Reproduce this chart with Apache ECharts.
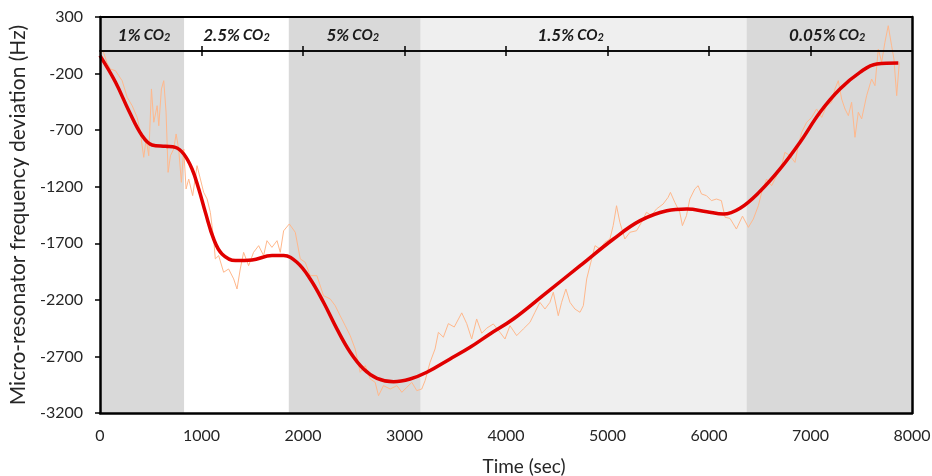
<!DOCTYPE html>
<html>
<head>
<meta charset="utf-8">
<script src="https://cdn.jsdelivr.net/npm/echarts@6/dist/echarts.min.js"></script>
<style>
  html, body { margin: 0; padding: 0; background: #fff; }
  #chart { width: 932px; height: 476px; }
</style>
</head>
<body>
<div id="chart"></div>
<script>
// raw measured trace (sec, Hz)
var timeRaw = [0, 28, 47, 67, 103, 153, 185, 218, 268, 317, 366, 399, 415, 431, 455, 480, 507, 530, 563, 579,
  605, 628, 651, 671, 694, 726, 750, 775, 802, 825, 848, 874, 913, 956, 989, 1021, 1055, 1087, 1120, 1136,
  1169, 1218, 1267, 1317, 1350, 1382, 1415, 1464, 1513, 1563, 1612, 1645, 1694, 1744, 1776, 1809, 1865, 1924, 1973, 2022,
  2071, 2137, 2202, 2268, 2317, 2366, 2416, 2465, 2514, 2563, 2613, 2662, 2711, 2744, 2793, 2859, 2925, 2974, 3023, 3072,
  3121, 3170, 3203, 3252, 3301, 3334, 3383, 3432, 3490, 3564, 3613, 3662, 3711, 3761, 3810, 3875, 3941, 3990, 4039, 4105,
  4171, 4236, 4285, 4334, 4384, 4433, 4466, 4515, 4548, 4590, 4630, 4679, 4729, 4762, 4795, 4844, 4877, 4926, 4975, 5024,
  5056, 5089, 5122, 5171, 5220, 5286, 5335, 5384, 5433, 5482, 5548, 5597, 5620, 5663, 5712, 5738, 5778, 5811, 5860, 5893,
  5926, 5975, 6024, 6073, 6122, 6158, 6207, 6270, 6330, 6388, 6437, 6486, 6519, 6568, 6617, 6666, 6715, 6748, 6797, 6847,
  6880, 6913, 6962, 7011, 7060, 7110, 7159, 7208, 7241, 7274, 7307, 7340, 7373, 7405, 7438, 7471, 7504, 7553, 7602, 7635,
  7668, 7701, 7733, 7766, 7799, 7822, 7849, 7875];
var freqRaw = [-36, 7, 15, -100, -160, -175, -219, -263, -410, -484, -587, -719, -837, -940, -778, -926, -336, -630, -484, -661,
  -336, -263, -542, -1073, -926, -867, -734, -867, -1161, -867, -1220, -1132, -1279, -1014, -1132, -1249, -1308, -1426, -1662, -1838,
  -1809, -1956, -1927, -2015, -2104, -1927, -1780, -1898, -1780, -1721, -1809, -1677, -1736, -1677, -1780, -1590, -1529, -1603, -1838, -1868,
  -1986, -1986, -2163, -2192, -2251, -2340, -2428, -2516, -2634, -2840, -2781, -2899, -2929, -3047, -2958, -2988, -2958, -3017, -2973, -2929,
  -3002, -2988, -2914, -2752, -2634, -2487, -2530, -2410, -2440, -2315, -2410, -2546, -2369, -2495, -2450, -2413, -2487, -2546, -2428, -2516,
  -2457, -2399, -2310, -2222, -2281, -2222, -2133, -2340, -2222, -2104, -2222, -2281, -2310, -2251, -2015, -1839, -1721, -1750, -1691, -1662,
  -1544, -1368, -1515, -1662, -1603, -1589, -1515, -1426, -1456, -1397, -1353, -1294, -1250, -1338, -1426, -1544, -1456, -1309, -1220, -1191,
  -1264, -1279, -1323, -1309, -1323, -1470, -1480, -1574, -1460, -1559, -1485, -1368, -1250, -1132, -1191, -1103, -1014, -896, -926, -985,
  -837, -719, -631, -587, -513, -587, -484, -454, -336, -263, -425, -513, -572, -454, -763, -542, -601, -395, -248, -307,
  17, -100, 76, 223, 46, -71, -395, -100];

// smoothed fit (sec, Hz)
var timeFit = [0, 153, 284, 415, 513, 645, 743, 825, 907, 973, 1038, 1120, 1202, 1334, 1498, 1695, 1809, 1940, 2071, 2202,
  2334, 2465, 2597, 2729, 2893, 3055, 3220, 3449, 3646, 3842, 4072, 4403, 4731, 5059, 5322, 5585, 5782, 5979, 6142, 6306,
  6503, 6700, 6897, 7094, 7290, 7487, 7652, 7865];
var freqFit = [-42, -277, -528, -749, -831, -843, -852, -911, -1043, -1220, -1426, -1662, -1794, -1853, -1847, -1809, -1809, -1868, -2015, -2221,
  -2457, -2663, -2811, -2893, -2923, -2899, -2840, -2722, -2619, -2501, -2369, -2133, -1898, -1662, -1500, -1412, -1397, -1421, -1441, -1390,
  -1240, -1043, -807, -542, -336, -189, -115, -106];

// CO2 phases
var phaseStart = [0, 830, 1860, 3160, 6370];
var phaseEnd = [830, 1860, 3160, 6370, 8000];
var phaseGas = ['1%', '2.5%', '5%', '1.5%', '0.05%'];

var yTicks = [-3200, -2700, -2200, -1700, -1200, -700, -200, 300];
var xTicks = [0, 1000, 2000, 3000, 4000, 5000, 6000, 7000, 8000];

var shade = ['#d9d9d9', '#ffffff', '#d9d9d9', '#efefef', '#d9d9d9'];
var labelShift = [2, 0, -2, -13, -2];
var font = 'Lato, "Open Sans", sans-serif';
var plain = function (v) { return String(v); };

var areas = phaseStart.map(function (s, i) {
  return [{
    xAxis: s,
    itemStyle: { color: shade[i] },
    label: {
      show: true,
      position: 'insideTop',
      distance: 10,
      offset: [labelShift[i], 0],
      formatter: '{a|' + phaseGas[i] + '} {b|CO}{c|2}'
    }
  }, { xAxis: phaseEnd[i] }];
});

// x axis drawn along y = 0 with crossing ticks (two halves)
var zeroAxis = function (inside) {
  return {
    type: 'value', min: 0, max: 8000, position: 'bottom', z: 10,
    axisLine: { show: true, onZero: true, onZeroAxisIndex: 0, lineStyle: { color: '#000', width: 1.5 } },
    axisTick: { show: true, inside: inside, length: 5, lineStyle: { color: '#000', width: 1.5 },
      customValues: xTicks.slice(1, 8) },
    axisLabel: { show: false },
    splitLine: { show: false }
  };
};

var chart = echarts.init(document.getElementById('chart'));
chart.setOption({
  animation: false,
  textStyle: { fontFamily: font },
  grid: { left: 100, right: 20, top: 17, bottom: 63, outerBoundsMode: 'none' },
  xAxis: [{
    type: 'value', min: 0, max: 8000, z: 10,
    name: 'Time (sec)', nameLocation: 'middle', nameGap: 44,
    nameTextStyle: { fontSize: 19, color: '#262626', fontFamily: font, padding: [0, 0, 0, 36] },
    axisLine: { show: true, onZero: false, lineStyle: { color: '#000', width: 2.5 } },
    axisTick: { show: false },
    axisLabel: { fontSize: 16, color: '#262626', margin: 15, fontFamily: font,
      customValues: xTicks, formatter: plain },
    splitLine: { show: false }
  }, zeroAxis(true), zeroAxis(false), {
    type: 'value', min: 0, max: 8000, position: 'top', z: 10,
    axisLine: { show: true, onZero: false, lineStyle: { color: '#000', width: 2 } },
    axisTick: { show: false }, axisLabel: { show: false }, splitLine: { show: false }
  }],
  yAxis: [{
    type: 'value', min: -3200, max: 300, z: 10,
    name: 'Micro-resonator frequency deviation (Hz)', nameLocation: 'middle', nameGap: 69,
    nameTextStyle: { fontSize: 21, color: '#262626', fontFamily: font },
    axisLine: { show: true, onZero: false, lineStyle: { color: '#000', width: 2.5 } },
    axisTick: { show: true, length: 5, lineStyle: { color: '#000', width: 1.5 }, customValues: yTicks },
    axisLabel: { fontSize: 16, color: '#262626', margin: 17, fontFamily: font,
      customValues: yTicks, formatter: plain },
    splitLine: { show: false }
  }, {
    type: 'value', min: -3200, max: 300, position: 'right', z: 10,
    axisLine: { show: true, onZero: false, lineStyle: { color: '#000', width: 2.5 } },
    axisTick: { show: false }, axisLabel: { show: false }, splitLine: { show: false }
  }],
  series: [{
    type: 'line',
    data: timeRaw.map(function (t, i) { return [t, freqRaw[i]]; }),
    showSymbol: false,
    lineStyle: { color: '#ffb88c', width: 1 },
    z: 2,
    markArea: {
      silent: true,
      label: {
        color: '#1a1a1a',
        fontFamily: font,
        rich: {
          a: { fontSize: 17, fontWeight: 'bold', fontStyle: 'italic', fontFamily: font, color: '#1a1a1a' },
          b: { fontSize: 15, fontWeight: 'bold', fontStyle: 'italic', fontFamily: font, color: '#1a1a1a' },
          c: { fontSize: 11, fontWeight: 'bold', fontStyle: 'italic', fontFamily: font, color: '#1a1a1a', padding: [4, 0, 0, 0] }
        }
      },
      data: areas
    }
  }, {
    type: 'line',
    data: timeFit.map(function (t, i) { return [t, freqFit[i]]; }),
    smooth: 0.4,
    showSymbol: false,
    lineStyle: { color: '#e00000', width: 3.5 },
    z: 3
  }]
});
</script>
</body>
</html>
